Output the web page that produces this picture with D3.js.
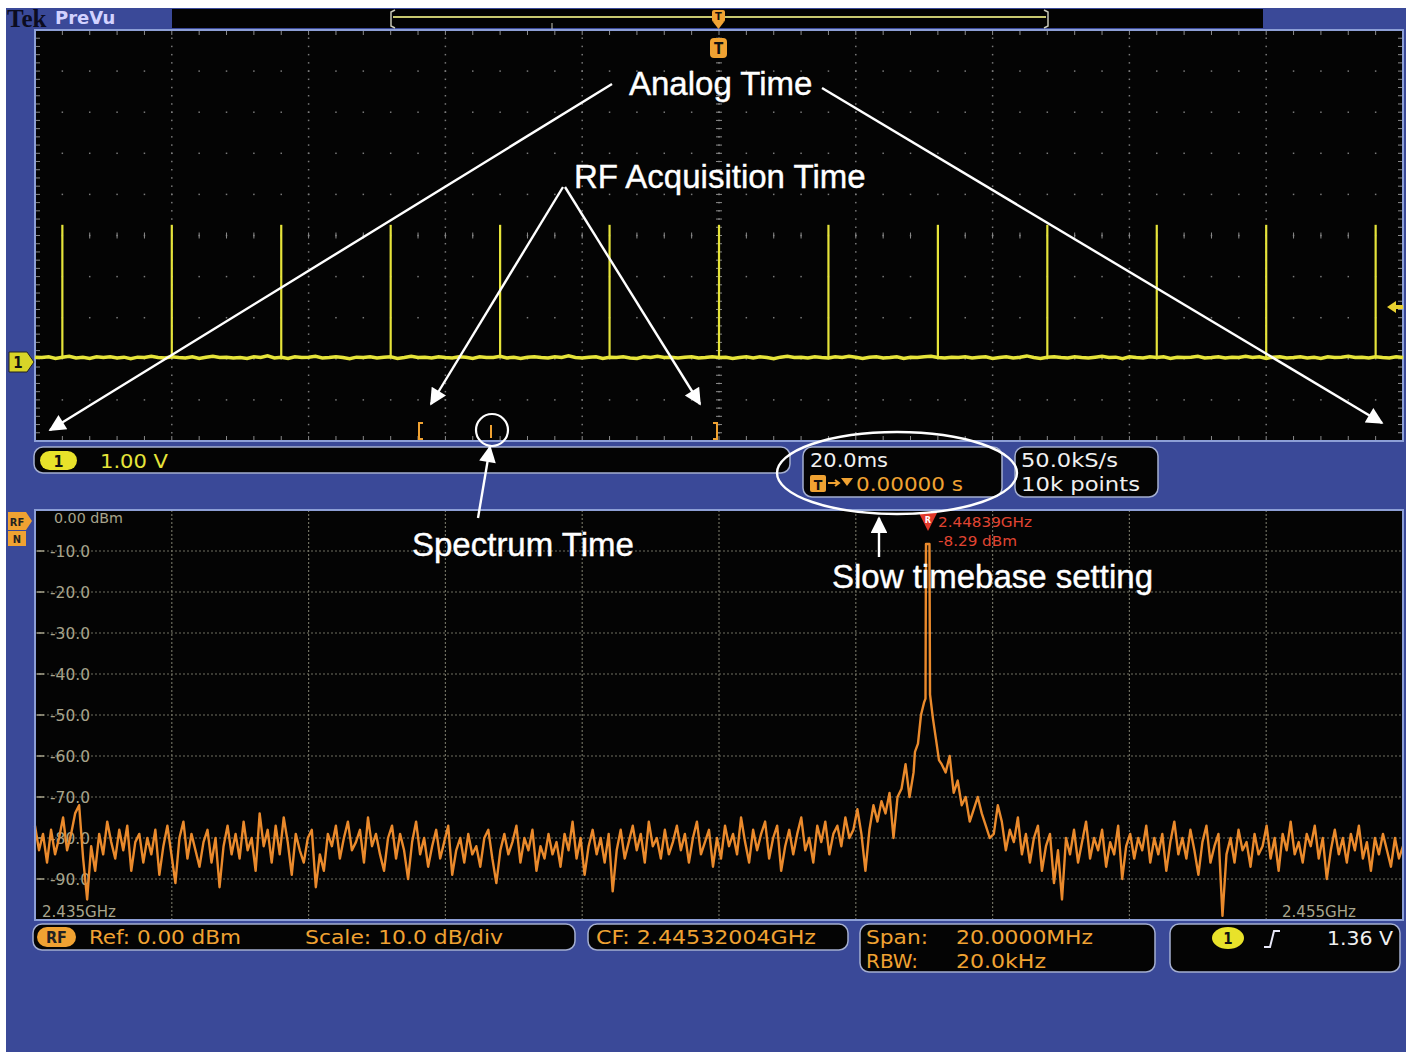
<!DOCTYPE html>
<html><head><meta charset="utf-8">
<script src="https://cdn.jsdelivr.net/npm/d3@7"></script>
<style>body{margin:0;background:#fff}svg{display:block}</style>
</head><body>
<script>
// ---------------- DATA ----------------
const timeDivMs = [-100,-80,-60,-40,-20,0,20,40,60,80,100];
const voltDivs = [-2,-1,0,1,2,3,4,5,6,7,8];
const spikeTimesMs = [-96,-80,-64,-48,-32,-16,0,16,32,48,64,80,96];
const spikeVolts = [3.26,3.26,3.26,3.26,3.26,3.26,3.26,3.26,3.26,3.26,3.26,3.26,3.26];
const baselineVolts = [
0.04,0.03,0.05,0.01,0.04,0.06,0.02,0.04,0.01,0.05,
0.03,0.05,0.02,0.04,0.00,0.04,0.03,0.06,0.03,0.02,
0.05,0.03,0.02,0.05,0.01,0.04,0.06,0.03,0.04,0.02,
0.03,0.01,0.05,0.03,0.07,0.02,0.04,0.01,0.05,0.03,
0.04,0.06,0.02,0.03,0.05,0.03,0.00,0.04,0.03,0.05,
0.02,0.04,0.05,0.01,0.03,0.06,0.03,0.04,0.02,0.05,
0.03,0.02,0.05,0.04,0.01,0.05,0.03,0.03,0.06,0.02,
0.04,0.01,0.04,0.05,0.03,0.02,0.05,0.03,0.07,0.03,
0.02,0.04,0.05,0.01,0.04,0.03,0.05,0.02,0.01,0.05,
0.03,0.06,0.03,0.04,0.02,0.04,0.05,0.02,0.03,0.05,
0.03,
0.04,0.01,0.03,0.05,0.02,0.05,0.03,0.00,0.04,0.06,
0.03,0.04,0.02,0.05,0.03,0.02,0.05,0.03,0.06,0.04,
0.01,0.04,0.05,0.02,0.03,0.05,0.01,0.04,0.03,0.05,
0.06,0.03,0.02,0.04,0.03,0.05,0.02,0.04,0.05,0.01,
0.03,0.05,0.02,0.04,0.07,0.03,0.01,0.04,0.05,0.03,
0.02,0.05,0.03,0.02,0.04,0.06,0.03,0.04,0.00,0.05,
0.03,0.02,0.05,0.03,0.05,0.01,0.04,0.03,0.04,0.06,
0.02,0.03,0.05,0.02,0.04,0.03,0.06,0.03,0.05,0.01,
0.04,0.05,0.02,0.03,0.05,0.02,0.04,0.01,0.05,0.03,
0.04,0.06,0.03,0.04,0.02,0.05,0.03,0.02,0.05,0.03];

const freqStartGHz = 2.435, freqStopGHz = 2.455;
const dbmTicks = [-10,-20,-30,-40,-50,-60,-70,-80,-90];
const dbmTickLabels = ["-10.0","-20.0","-30.0","-40.0","-50.0","-60.0","-70.0","-80.0","-90.0"];
const freqGridMHz = [2,4,6,8,10,12,14,16,18];
// noise floor, evenly spaced across the span (null = replaced by the peak trace)
const spectrumDbm = [
-77,-83,-79,-86,-78,-84,-80,-75,-83,-79,
-74,-72,-85,-95,-82,-88,-79,-84,-76,-81,
-85,-78,-83,-77,-88,-81,-79,-86,-80,-84,
-78,-89,-82,-77,-84,-91,-80,-76,-85,-79,
-83,-87,-81,-78,-86,-80,-92,-82,-77,-84,
-79,-85,-76,-83,-80,-88,-74,-82,-78,-86,
-77,-84,-75,-81,-89,-79,-83,-86,-80,-78,
-92,-84,-88,-79,-82,-77,-85,-80,-76,-83,
-81,-78,-86,-75,-82,-79,-84,-88,-80,-77,
-85,-79,-83,-90,-81,-76,-84,-80,-87,-82,
-78,-85,-81,-77,-89,-83,-80,-86,-79,-84,
-82,-87,-80,-78,-85,-91,-83,-79,-84,-81,
-77,-86,-80,-83,-78,-88,-82,-85,-79,-84,
-81,-87,-79,-83,-76,-85,-80,-89,-82,-78,
-84,-80,-86,-79,-93,-83,-78,-85,-81,-77,
-83,-79,-86,-76,-82,-80,-85,-78,-84,-81,
-77,-83,-79,-86,-80,-76,-84,-81,-78,-87,
-80,-85,-77,-82,-79,-84,-75,-81,-86,-78,
-83,-79,-76,-85,-80,-77,-88,-82,-78,-84,
-79,-75,-83,-80,-86,-77,-81,-76,-84,-79,
-77,-82,-75,-80,-78,-73,-79,-88,-78,-72,
-76,-71,-74,-69,-80,-70,-68,-62,-70,-64,
null,null,null,null,null,null,
-62,-64,-60,-69,-66,-72,-70,-76,-73,-70,
-74,-77,-80,-79,-72,-76,-83,-78,-81,-75,
-84,-79,-86,-80,-77,-88,-82,-79,-91,-83,
-95,-80,-84,-78,-86,-81,-76,-85,-80,-83,
-78,-87,-81,-84,-77,-90,-82,-79,-85,-80,
-83,-77,-86,-80,-84,-79,-88,-81,-76,-84,
-80,-85,-78,-83,-89,-81,-77,-86,-82,-79,
-99,-84,-80,-86,-78,-83,-81,-87,-79,-84,
-82,-77,-85,-80,-88,-79,-83,-76,-84,-81,
-86,-79,-82,-77,-85,-80,-90,-83,-78,-84,
-80,-86,-79,-83,-77,-85,-81,-88,-80,-84,
-79,-83,-87,-80,-85,-82];
const peakFreqGHz = [2.447865,2.447909,2.447953,2.447997,2.448019,2.448026,2.448077,2.448085,2.448129,2.448173,2.448216];
const peakDbm =     [-59,-57,-50,-47,-46,-8.29,-8.29,-45,-51,-56,-61];

// ---------------- DRAW ----------------
const W=1408,H=1053;
const BLUE="#3a4998", ORANGE="#f0a232", YEL="#e6e43a", BORDER="#8d9fd6";
const MONO="'DejaVu Sans Condensed','DejaVu Sans',sans-serif";
const svg=d3.select("body").append("svg").attr("width",W).attr("height",H);
svg.append("rect").attr("width",W).attr("height",H).attr("fill","#fff");
svg.append("rect").attr("x",6).attr("y",8).attr("width",1400).attr("height",1044).attr("fill",BLUE);

// header
svg.append("text").attr("x",7).attr("y",27).text("Tek").attr("font-family","'Liberation Serif',serif").attr("font-weight","bold").attr("font-size",25).attr("fill","#0c0c20");
svg.append("text").attr("x",55).attr("y",24).text("PreVu").attr("font-family","'DejaVu Sans',sans-serif").attr("font-weight","bold").attr("font-size",18).attr("fill","#d2d2ff");
svg.append("rect").attr("x",172).attr("y",9).attr("width",1091).attr("height",19).attr("fill","#030303");
svg.append("line").attr("x1",393).attr("x2",1046).attr("y1",17).attr("y2",17).attr("stroke","#c8c870").attr("stroke-width",2);
svg.append("path").attr("d","M395,10 L391,12 L391,26 L395,28 M1044,10 L1048,12 L1048,26 L1044,28").attr("fill","none").attr("stroke","#c8c8b8").attr("stroke-width",1.5);
svg.append("line").attr("x1",552).attr("x2",552).attr("y1",23).attr("y2",29).attr("stroke","#c8c8b8");

// ---- time-domain panel
const tx=d3.scaleLinear().domain([-100,100]).range([35,1403]);
const vy=d3.scaleLinear().domain([-2,8]).range([441,30]);
svg.append("rect").attr("x",35).attr("y",30).attr("width",1368).attr("height",411).attr("fill","#040404");
const tg=svg.append("g");
const minorT=d3.range(-100,100.001,4), minorV=d3.range(-2,8.001,0.2);
timeDivMs.slice(1,-1).forEach(t=>{
  tg.selectAll(null).data(minorV.slice(1,-1)).enter().append("rect")
    .attr("x",tx(t)-0.75).attr("y",d=>vy(d)-0.75).attr("width",1.5).attr("height",1.5).attr("fill","#7a7a7a");
});
voltDivs.slice(1,-1).forEach(v=>{
  tg.selectAll(null).data(minorT.slice(1,-1)).enter().append("rect")
    .attr("x",d=>tx(d)-0.75).attr("y",vy(v)-0.75).attr("width",1.5).attr("height",1.5).attr("fill","#7a7a7a");
});
tg.selectAll(null).data(minorT).enter().append("line").attr("x1",d=>tx(d)).attr("x2",d=>tx(d)).attr("y1",vy(3)-3).attr("y2",vy(3)+3).attr("stroke","#8a8a8a");
tg.selectAll(null).data(minorV).enter().append("line").attr("y1",d=>vy(d)).attr("y2",d=>vy(d)).attr("x1",tx(0)-3).attr("x2",tx(0)+3).attr("stroke","#8a8a8a");
tg.selectAll(null).data(minorT).enter().append("line").attr("x1",d=>tx(d)).attr("x2",d=>tx(d)).attr("y1",30).attr("y2",35).attr("stroke","#8a8a8a");
tg.selectAll(null).data(minorT).enter().append("line").attr("x1",d=>tx(d)).attr("x2",d=>tx(d)).attr("y1",436).attr("y2",441).attr("stroke","#8a8a8a");
tg.selectAll(null).data(minorV).enter().append("line").attr("y1",d=>vy(d)).attr("y2",d=>vy(d)).attr("x1",35).attr("x2",40).attr("stroke","#8a8a8a");
tg.selectAll(null).data(minorV).enter().append("line").attr("y1",d=>vy(d)).attr("y2",d=>vy(d)).attr("x1",1398).attr("x2",1403).attr("stroke","#8a8a8a");
svg.append("rect").attr("x",35).attr("y",30).attr("width",1368).attr("height",411).attr("fill","none").attr("stroke",BORDER).attr("stroke-width",2);

// trace
const baseT=baselineVolts.map((v,i)=>[-100+i,v]);
svg.append("path").datum(baseT).attr("fill","none").attr("stroke",YEL).attr("stroke-width",3.5)
  .attr("d",d3.line().x(d=>tx(d[0])).y(d=>vy(d[1])));
svg.selectAll(null).data(spikeTimesMs).enter().append("line")
  .attr("x1",d=>tx(d)).attr("x2",d=>tx(d)).attr("y1",vy(0.04)).attr("y2",(d,i)=>vy(spikeVolts[i]))
  .attr("stroke",YEL).attr("stroke-width",2.2);

// markers
svg.append("path").attr("d","M9,352 L27,352 L34,362 L27,372 L9,372 Z").attr("fill","#d8d428").attr("stroke","#222").attr("stroke-width",1);
svg.append("text").attr("x",18).attr("y",368).attr("text-anchor","middle").text("1").attr("font-family",MONO).attr("font-weight","bold").attr("font-size",15).attr("fill","#111");
svg.append("path").attr("d","M1387,307 L1396,301 L1396,305 L1403,305 L1403,309 L1396,309 L1396,313 Z").attr("fill","#e8d030");
svg.append("rect").attr("x",710).attr("y",38).attr("width",17).attr("height",20).attr("rx",4).attr("fill",ORANGE);
svg.append("text").attr("x",718.5).attr("y",54).attr("text-anchor","middle").text("T").attr("font-family",MONO).attr("font-weight","bold").attr("font-size",15).attr("fill","#111");
svg.append("rect").attr("x",712).attr("y",10).attr("width",13).attr("height",12).attr("rx",2).attr("fill",ORANGE);
svg.append("text").attr("x",718.5).attr("y",20).attr("text-anchor","middle").text("T").attr("font-family",MONO).attr("font-weight","bold").attr("font-size",11).attr("fill","#111");
svg.append("path").attr("d","M713,22 L724,22 L718.5,29 Z").attr("fill",ORANGE);
svg.append("path").attr("d","M423,423 L419,423 L419,439 L423,439 M713,423 L717,423 L717,439 L713,439 M491,425 L491,438")
  .attr("fill","none").attr("stroke",ORANGE).attr("stroke-width",2);

// ---- readouts (upper)
function box(x,y,w,h){svg.append("rect").attr("x",x).attr("y",y).attr("width",w).attr("height",h).attr("rx",9).attr("fill","#040404").attr("stroke","#a4aed0").attr("stroke-width",1.5);}
function txt(s,x,y,len,fill,size,anchor){const t=svg.append("text").attr("x",x).attr("y",y).text(s).attr("font-family",MONO).attr("font-size",size||20).attr("fill",fill);
  if(len){t.attr("textLength",len).attr("lengthAdjust","spacingAndGlyphs");} if(anchor)t.attr("text-anchor",anchor); return t;}
box(34,447,756,26);
svg.append("rect").attr("x",40).attr("y",451).attr("width",37).attr("height",19).attr("rx",9.5).attr("fill","#e8e22a");
txt("1",58.5,467,null,"#111",16,"middle").attr("font-weight","bold");
txt("1.00 V",100,468,68,YEL,20);
box(803,447,199,50);
txt("20.0ms",810,467,78,"#f0f0f0",20);
svg.append("rect").attr("x",810).attr("y",475).attr("width",16).attr("height",17).attr("rx",2).attr("fill",ORANGE);
txt("T",818,490,null,"#111",14,"middle").attr("font-weight","bold");
svg.append("path").attr("d","M828,483 L838,483 M835,480 L839,483 L835,486").attr("stroke",ORANGE).attr("stroke-width",2).attr("fill","none");
svg.append("path").attr("d","M841,478 L853,478 L847,486 Z").attr("fill",ORANGE);
txt("0.00000 s",856,491,107,ORANGE,20);
box(1015,447,143,50);
txt("50.0kS/s",1021,467,97,"#f0f0f0",20);
txt("10k points",1021,491,119,"#f0f0f0",20);

// ---- spectrum panel
const fx=d3.scaleLinear().domain([freqStartGHz,freqStopGHz]).range([35,1403]);
const dy=d3.scaleLinear().domain([-100,0]).range([920,510]);
svg.append("rect").attr("x",35).attr("y",510).attr("width",1368).attr("height",410).attr("fill","#040404");
const sg=svg.append("g");
sg.selectAll(null).data(dbmTicks).enter().append("line").attr("x1",35).attr("x2",1403).attr("y1",d=>dy(d)).attr("y2",d=>dy(d))
  .attr("stroke","#6e6e60").attr("stroke-width",1.2).attr("stroke-dasharray","2,2");
sg.selectAll(null).data(freqGridMHz).enter().append("line").attr("y1",510).attr("y2",920).attr("x1",d=>fx(freqStartGHz+d/1000)).attr("x2",d=>fx(freqStartGHz+d/1000))
  .attr("stroke","#6e6e60").attr("stroke-width",1.2).attr("stroke-dasharray","2,2");
sg.selectAll(null).data(dbmTicks).enter().append("line").attr("x1",37).attr("x2",44).attr("y1",d=>dy(d)).attr("y2",d=>dy(d)).attr("stroke","#a8a48c").attr("stroke-width",1.5);
sg.selectAll(null).data(dbmTicks).enter().append("text").attr("x",50).attr("y",d=>dy(d)+5.5).text((d,i)=>dbmTickLabels[i])
  .attr("font-family",MONO).attr("font-size",15).attr("fill","#a8a48c").attr("textLength",40).attr("lengthAdjust","spacingAndGlyphs");
txt("0.00 dBm",54,523,69,"#a8a48c",14);
txt("2.435GHz",42,917,74,"#a8a48c",15);
txt("2.455GHz",1282,917,74,"#a8a48c",15);

const nPts=spectrumDbm.length;
const pts=spectrumDbm.map((v,i)=>[freqStartGHz+(freqStopGHz-freqStartGHz)*i/(nPts-1),v]).filter(d=>d[1]!==null);
peakFreqGHz.forEach((f,i)=>pts.push([f,peakDbm[i]]));
pts.sort((a,b)=>a[0]-b[0]);
svg.append("path").datum(pts).attr("fill","none").attr("stroke","#ea8a2c").attr("stroke-width",2.4).attr("stroke-linejoin","round")
  .attr("d",d3.line().x(d=>fx(d[0])).y(d=>dy(d[1])));
svg.append("rect").attr("x",35).attr("y",510).attr("width",1368).attr("height",410).attr("fill","none").attr("stroke",BORDER).attr("stroke-width",2);

const mx=fx(peakFreqGHz[5])+2;
svg.append("path").attr("d",`M${mx-9},513 L${mx+9},513 L${mx},531 Z`).attr("fill","#e2382a");
txt("R",mx,523,null,"#fff",9,"middle").attr("font-weight","bold");
txt("2.44839GHz",938,527,94,"#e04432",14);
txt("-8.29 dBm",938,546,79,"#e04432",14);
svg.append("path").attr("d","M8,512 L26,512 L32,521 L26,530 L8,530 Z").attr("fill",ORANGE);
txt("RF",17,526,null,"#222",11,"middle").attr("font-weight","bold");
svg.append("rect").attr("x",8).attr("y",531).attr("width",18).attr("height",15).attr("fill",ORANGE);
txt("N",17,543,null,"#222",11,"middle").attr("font-weight","bold");

// ---- readouts (lower)
box(33,924,542,26);
svg.append("rect").attr("x",37).attr("y",927).attr("width",39).attr("height",20).attr("rx",10).attr("fill",ORANGE);
txt("RF",56.5,943,null,"#222",16,"middle").attr("font-weight","bold");
txt("Ref: 0.00 dBm",89,944,152,ORANGE,20);
txt("Scale: 10.0 dB/div",305,944,198,ORANGE,20);
box(588,924,260,26);
txt("CF: 2.44532004GHz",596,944,220,ORANGE,20);
box(860,924,295,48);
txt("Span:",866,944,62,ORANGE,20);
txt("20.0000MHz",956,944,137,ORANGE,20);
txt("RBW:",866,968,52,ORANGE,20);
txt("20.0kHz",956,968,90,ORANGE,20);
box(1170,924,230,48);
svg.append("ellipse").attr("cx",1228).attr("cy",938).attr("rx",16).attr("ry",11).attr("fill","#e8e22a");
txt("1",1228,944,null,"#111",15,"middle").attr("font-weight","bold");
svg.append("path").attr("d","M1264,947 L1270,947 L1274,931 L1280,931").attr("fill","none").attr("stroke","#e8e8f8").attr("stroke-width",2);
txt("1.36 V",1327,945,66,"#f0f0f0",20);

// ---- annotations
const A=svg.append("g");
A.append("defs").append("marker").attr("id","ah").attr("viewBox","0 0 10 10").attr("refX",9).attr("refY",5)
  .attr("markerWidth",9).attr("markerHeight",7).attr("markerUnits","strokeWidth").attr("orient","auto")
  .append("path").attr("d","M0,0 L10,5 L0,10 Z").attr("fill","#fff");
function arrow(x1,y1,x2,y2){A.append("line").attr("x1",x1).attr("y1",y1).attr("x2",x2).attr("y2",y2).attr("stroke","#fff").attr("stroke-width",2.4).attr("marker-end","url(#ah)");}
arrow(612,84,50,430);
arrow(822,88,1382,423);
arrow(563,187,431,404);
arrow(565,187,700,404);
arrow(478,518,490,447);
arrow(879,557,879,518);
A.append("circle").attr("cx",492).attr("cy",430).attr("r",16).attr("fill","none").attr("stroke","#fff").attr("stroke-width",2.2);
A.append("ellipse").attr("cx",897).attr("cy",473).attr("rx",120).attr("ry",41).attr("fill","none").attr("stroke","#fff").attr("stroke-width",2.4);
const AF="'Liberation Sans',Arial,sans-serif";
function label(s,x,y){A.append("text").attr("x",x).attr("y",y).text(s).attr("font-family",AF).attr("font-size",33).attr("fill","#fff").attr("stroke","#fff").attr("stroke-width",0.4);}
label("Analog Time",629,95);
label("RF Acquisition Time",574,188);
label("Spectrum Time",412,556);
label("Slow timebase setting",832,588);
</script>
</body></html>
